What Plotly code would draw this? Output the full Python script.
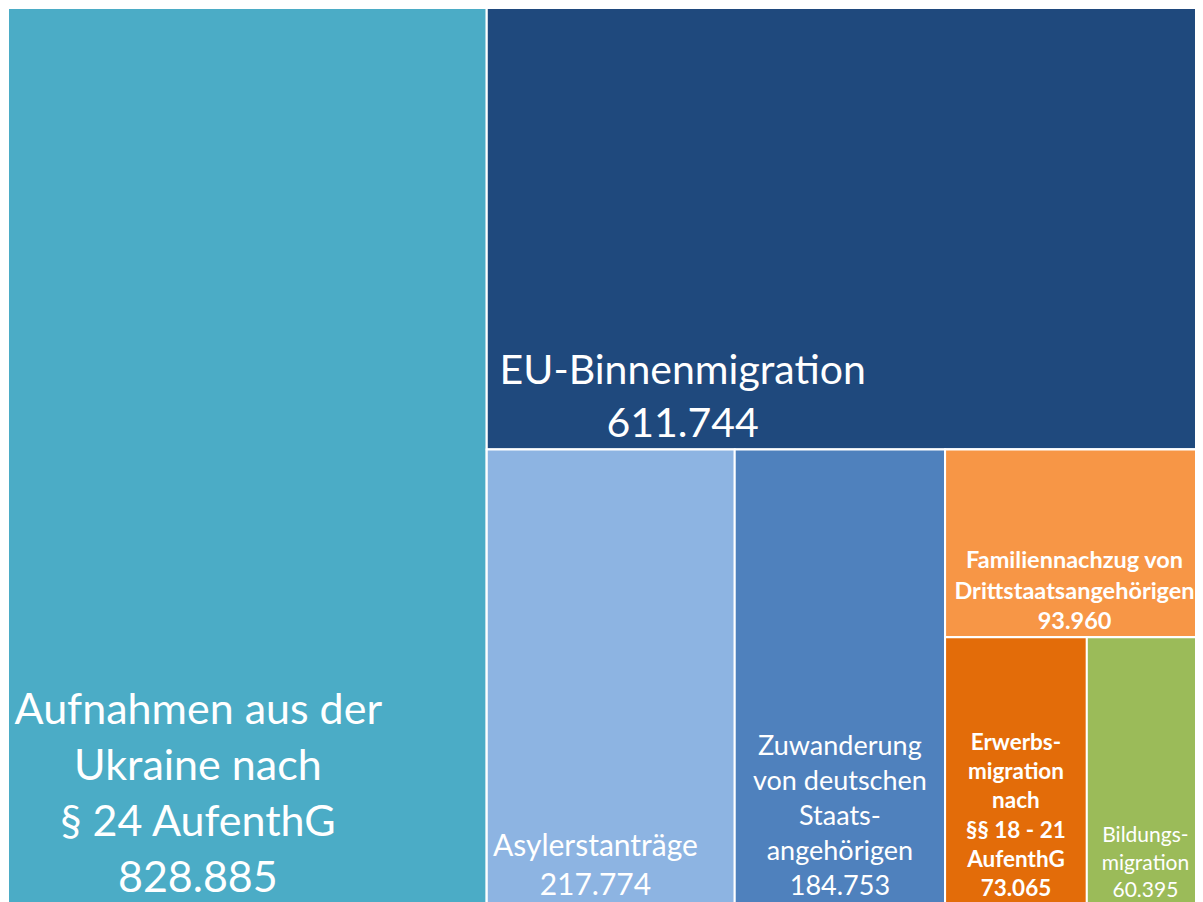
import plotly.graph_objects as go

# Leaf categories (plain names), display labels split in lines, values
categories = [
    "Aufnahmen aus der Ukraine nach § 24 AufenthG",
    "EU-Binnenmigration",
    "Asylerstanträge",
    "Zuwanderung von deutschen Staatsangehörigen",
    "Familiennachzug von Drittstaatsangehörigen",
    "Erwerbsmigration nach §§ 18 - 21 AufenthG",
    "Bildungsmigration",
]
display_lines = [
    ["Aufnahmen aus der", "Ukraine nach", "§ 24 AufenthG"],
    ["EU-Binnenmigration"],
    ["Asylerstanträge"],
    ["Zuwanderung", "von deutschen", "Staats-", "angehörigen"],
    ["Familiennachzug von", "Drittstaatsangehörigen"],
    ["Erwerbs-", "migration", "nach", "§§ 18 - 21", "AufenthG"],
    ["Bildungs-", "migration"],
]
values = [828885, 611744, 217774, 184753, 93960, 73065, 60395]

# Nesting: each group holds the remaining categories (alternating split direction)
leaf_parents = ["root", "g1", "g2", "g2", "g3", "g4", "g4"]
group_ids = ["g1", "g2", "g3", "g4"]
group_parents = ["root", "g1", "g2", "g3"]
group_after_leaf = [0, 1, 3, 4]  # group is listed right after this leaf (child order)

# Styles
colors = ["#4BACC6", "#1F497D", "#8DB4E2", "#4F81BD", "#F79646", "#E36C09", "#9BBB59"]
font_sizes = [43, 41, 30, 27, 23.5, 22.5, 21]
bold = [False, False, False, False, True, True, False]
left_shift_spaces = [9, 31, 4, 0, 0, 0, 0]  # trailing nbsp pushes the centred block left


def fmt(v):
    return f"{v:,}".replace(",", ".")


ids, labels, parents, vals, texts, cols, sizes = [], [], [], [], [], [], []


def add_group(gid, gp):
    ids.append(gid)
    labels.append(gid)
    parents.append(gp)
    vals.append(0)
    texts.append("")
    cols.append("white")
    sizes.append(12)


add_group("root", "")
for i, name in enumerate(categories):
    ids.append(f"leaf{i}")
    labels.append(name)
    parents.append(leaf_parents[i])
    vals.append(values[i])
    pad = "\u00a0" * left_shift_spaces[i]
    lines = display_lines[i] + [fmt(values[i])]
    t = "<br>".join(line + pad for line in lines)
    if bold[i]:
        t = f"<b>{t}</b>"
    texts.append(t)
    cols.append(colors[i])
    sizes.append(font_sizes[i])
    for gid, gp, after in zip(group_ids, group_parents, group_after_leaf):
        if after == i:
            add_group(gid, gp)

fig = go.Figure(
    go.Treemap(
        ids=ids,
        labels=labels,
        parents=parents,
        values=vals,
        branchvalues="remainder",
        sort=False,
        text=texts,
        textinfo="text",
        textposition="bottom center",
        textfont=dict(family="Lato, sans-serif", color="white", size=sizes),
        marker=dict(colors=cols, line=dict(color="white", width=2),
                    pad=dict(t=0, l=0, r=0, b=0)),
        tiling=dict(packing="slice-dice", pad=0),
        pathbar=dict(visible=False),
        maxdepth=-1,
        hoverinfo="skip",
    )
)

fig.update_layout(
    width=1196,
    height=896,
    margin=dict(l=0, r=0, t=0, b=0),
    paper_bgcolor="white",
    showlegend=False,
)

fig.write_html(
    "out.html",
    post_script="document.documentElement.style.overflow='hidden';"
                "document.body.style.overflow='hidden';",
)
